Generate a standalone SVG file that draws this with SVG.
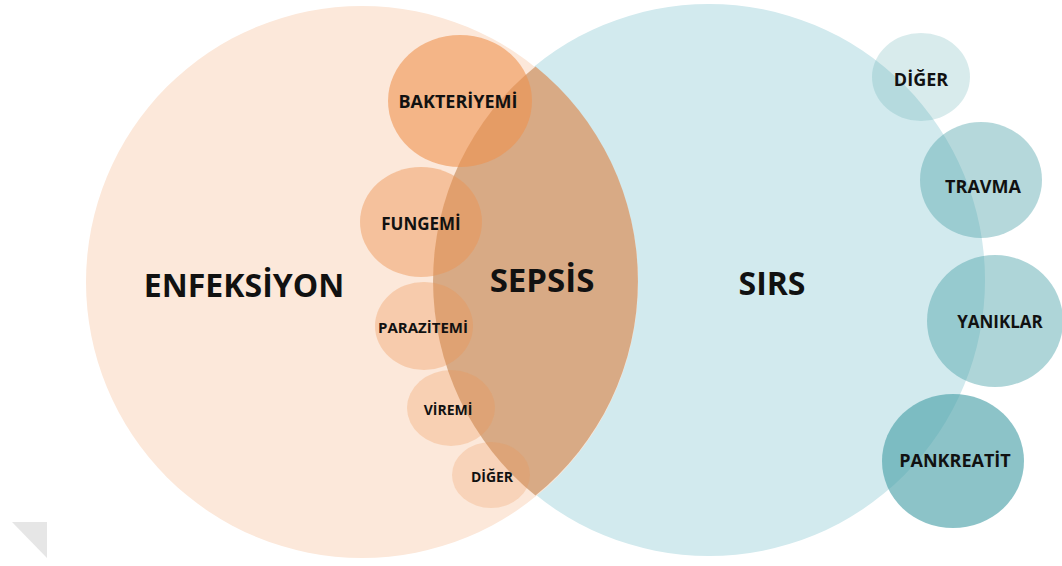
<svg xmlns="http://www.w3.org/2000/svg" width="1062" height="566" viewBox="0 0 1062 566">
<style>
text{font-family:"Open Sans","Liberation Sans",sans-serif;font-weight:700;fill:#111;text-anchor:middle;dominant-baseline:central}
.big{font-size:32px}
.s18{font-size:18px}
.s17{font-size:17px}
.s15{font-size:15px}
.s14{font-size:14px}
.or{fill:#ee9350}
.tl{fill:#4fa3aa}
</style>
<rect width="1062" height="566" fill="#ffffff"/>
<g id="corner">
<polygon points="12,522 47,522 47,558" fill="#e6e6e6"/>
</g>
<g id="sirs">
<circle cx="709" cy="280" r="276" fill="#d2eaee"/>
<text class="big" x="772" y="282">SIRS</text>
</g>
<g id="enfeksiyon">
<circle cx="362" cy="282" r="276" fill="#fce8da"/>
<text class="big" x="244" y="284">ENFEKSİYON</text>
</g>
<g id="sepsis">
<path d="M535.5,66.4 A276,276 0 0 1 535.5,495.6 A276,276 0 0 1 535.5,66.4 Z" fill="#d8aa85"/>
</g>
<g id="bakteriyemi">
<ellipse class="or" cx="460" cy="101" rx="72" ry="66" opacity="0.6"/>
<text class="s18" x="458" y="101">BAKTERİYEMİ</text>
</g>
<g id="fungemi">
<ellipse class="or" cx="421" cy="222" rx="61" ry="55" opacity="0.45"/>
<text class="s17" x="421" y="223">FUNGEMİ</text>
</g>
<g id="parazitemi">
<ellipse class="or" cx="424" cy="326" rx="49" ry="44" opacity="0.33"/>
<text class="s15" x="423" y="327">PARAZİTEMİ</text>
</g>
<g id="viremi">
<ellipse class="or" cx="451" cy="408" rx="44" ry="38" opacity="0.28"/>
<text class="s14" x="448" y="409">VİREMİ</text>
</g>
<g id="diger-enf">
<ellipse class="or" cx="491" cy="475" rx="39" ry="33" opacity="0.24"/>
<text class="s14" x="492" y="476">DİĞER</text>
</g>
<g id="sepsis-label">
<text class="big" x="542" y="279" style="font-size:33px">SEPSİS</text>
</g>
<g id="diger-sirs">
<ellipse class="tl" cx="921" cy="77" rx="49" ry="44" opacity="0.22"/>
<text class="s18" x="921" y="79">DİĞER</text>
</g>
<g id="travma">
<ellipse class="tl" cx="981" cy="180" rx="61" ry="58" opacity="0.42"/>
<text class="s18" x="983" y="186">TRAVMA</text>
</g>
<g id="yaniklar">
<ellipse class="tl" cx="995" cy="321" rx="68" ry="66" opacity="0.46"/>
<text class="s17" x="1000" y="321">YANIKLAR</text>
</g>
<g id="pankreatit">
<ellipse class="tl" cx="953" cy="461" rx="71" ry="67" opacity="0.65"/>
<text class="s18" x="955" y="460">PANKREATİT</text>
</g>
<g id="connectors"/>
</svg>
